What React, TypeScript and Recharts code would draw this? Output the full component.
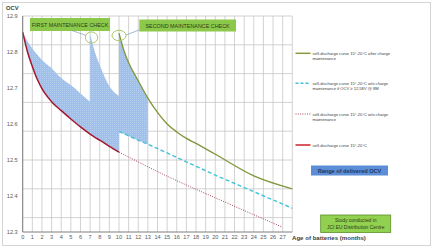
import React from 'react';
import { ComposedChart, Line, Area, XAxis, YAxis, CartesianGrid } from 'recharts';

// Self-discharge curve 15°-20°C (solid red)
const redX = [0, 0.5, 1, 1.5, 2, 3, 4, 5, 6, 7, 7.5, 8, 9, 10];
const redY = [12.855, 12.8, 12.76, 12.725, 12.698, 12.662, 12.637, 12.614, 12.592, 12.572, 12.563, 12.555, 12.538, 12.522];

// w/o charge maintenance (dotted)
const dotX = [10, 15, 20, 27];
const dotY = [12.522, 12.455, 12.395, 12.313];

// w/o charge maintenance if OCV >= 12,58V @ 8M (dashed cyan)
const cyanX = [10, 11, 12, 13, 20, 28];
const cyanY = [12.579, 12.567, 12.555, 12.544, 12.458, 12.366];

// after charge maintenance (green)
const greenX = [10, 10.5, 11, 12, 13, 14, 15, 16, 17, 18, 20, 24, 28];
const greenY = [12.852, 12.805, 12.77, 12.72, 12.672, 12.632, 12.6, 12.578, 12.56, 12.546, 12.516, 12.456, 12.42];

// Range of delivered OCV (three bands)
const band1X = [0, 0.5, 1, 1.5, 2, 3, 4, 5, 6, 7];
const band1Low = [12.855, 12.8, 12.76, 12.725, 12.698, 12.662, 12.637, 12.614, 12.592, 12.572];
const band1High = [12.855, 12.83, 12.81, 12.793, 12.778, 12.755, 12.728, 12.708, 12.685, 12.662];

const band2X = [7, 7.5, 8, 9, 10];
const band2Low = [12.572, 12.563, 12.555, 12.538, 12.522];
const band2High = [12.85, 12.8, 12.764, 12.705, 12.678];

const band3X = [10, 10.5, 11, 12, 13];
const band3Low = [12.579, 12.573, 12.567, 12.555, 12.544];
const band3High = [12.852, 12.805, 12.77, 12.72, 12.672];

const xTicks = [0, 1, 2, 3, 4, 5, 6, 7, 8, 9, 10, 11, 12, 13, 14, 15, 16, 17, 18, 19, 20, 21, 22, 23, 24, 25, 26, 27];
const yTicks = [12.3, 12.4, 12.5, 12.6, 12.7, 12.8, 12.9];

type Row = { [k: string]: any };
const rowsMap = new Map<number, Row>();
const put = (x: number, key: string, v: any) => {
  if (!rowsMap.has(x)) rowsMap.set(x, { x });
  rowsMap.get(x)![key] = v;
};
redX.forEach((x, i) => put(x, 'red', redY[i]));
dotX.forEach((x, i) => put(x, 'dot', dotY[i]));
cyanX.forEach((x, i) => put(x, 'cyan', cyanY[i]));
greenX.forEach((x, i) => put(x, 'green', greenY[i]));
band1X.forEach((x, i) => put(x, 'band1', [band1Low[i], band1High[i]]));
band2X.forEach((x, i) => put(x, 'band2', [band2Low[i], band2High[i]]));
band3X.forEach((x, i) => put(x, 'band3', [band3Low[i], band3High[i]]));
const data = Array.from(rowsMap.values()).sort((a, b) => a.x - b.x);

const gridH: number[] = [];
for (let i = 0; i <= 30; i++) gridH.push(12.3 + i * 0.02);
const gridV: number[] = [];
for (let i = 0; i <= 28; i++) gridV.push(i);

const FONT = '"Liberation Sans", Arial, sans-serif';
const BAND = '#9fc0ea';

const legendItems = [
  { y: 53.3, lines: ['self-discharge curve 15°-20°C after charge', 'maintenance'], stroke: '#8a9a3c', dash: undefined as string | undefined, w: 1.5 },
  { y: 83.3, lines: ['self-discharge curve 15°-20°C w/o charge', 'maintenance if OCV ≥ 12,58V @ 8M'], stroke: '#3ec3d8', dash: '3 2', w: 1.5 },
  { y: 114, lines: ['self-discharge curve 15°-20°C w/o charge', 'maintenance'], stroke: '#b04050', dash: '1 1.3', w: 1.1 },
  { y: 145, lines: ['self-discharge curve 15°-20°C'], stroke: '#d0202a', dash: undefined, w: 1.5 },
];

export default function App() {
  return (
    <div style={{ position: 'absolute', left: 0, top: 0, width: 433, height: 250, background: '#fff' }}>
      <div style={{ position: 'absolute', left: 0, top: 0 }}>
        <ComposedChart
          width={433}
          height={250}
          data={data}
          margin={{ top: 16, right: 140.7, bottom: 0, left: 2.7 }}
        >
          <defs>
            <pattern id="stipple" width="2" height="2" patternUnits="userSpaceOnUse">
              <rect width="2" height="2" fill={BAND} />
              <rect width="1" height="1" fill="#b3cdee" />
            </pattern>
          </defs>
          <CartesianGrid
            stroke="#c6c6c6"
            strokeWidth={0.8}
            horizontalValues={gridH}
            verticalValues={gridV}
          />
          <XAxis
            dataKey="x"
            type="number"
            domain={[0, 28]}
            ticks={xTicks}
            interval={0}
            height={18}
            tickLine={false}
            tickSize={3}
            tickMargin={0}
            axisLine={{ stroke: '#7f7f7f', strokeWidth: 1 }}
            tick={{ fontSize: 5.6, fill: '#595959', fontFamily: FONT }}
          />
          <YAxis
            type="number"
            domain={[12.3, 12.9]}
            ticks={yTicks}
            width={20}
            tickLine={false}
            tickSize={5}
            tickMargin={0}
            axisLine={{ stroke: '#7f7f7f', strokeWidth: 1 }}
            tickFormatter={(v: number) => v.toFixed(1)}
            tick={{ fontSize: 5.6, fill: '#595959', fontFamily: FONT }}
          />
          <Area dataKey="band1" type="monotone" stroke="none" fill="url(#stipple)" fillOpacity={1} connectNulls isAnimationActive={false} />
          <Area dataKey="band2" type="monotone" stroke="none" fill="url(#stipple)" fillOpacity={1} connectNulls isAnimationActive={false} />
          <Area dataKey="band3" type="monotone" stroke="none" fill="url(#stipple)" fillOpacity={1} connectNulls isAnimationActive={false} />
          <Line dataKey="dot" type="monotone" stroke="#a64556" strokeWidth={1} strokeDasharray="1 1.4" dot={false} connectNulls isAnimationActive={false} />
          <Line dataKey="cyan" type="linear" stroke="#3ec3d8" strokeWidth={1.4} strokeDasharray="4 2.5" dot={false} connectNulls isAnimationActive={false} />
          <Line dataKey="green" type="monotone" stroke="#7f963a" strokeWidth={1.3} dot={false} connectNulls isAnimationActive={false} />
          <Line dataKey="red" type="monotone" stroke="#a3182f" strokeWidth={1.5} dot={false} connectNulls isAnimationActive={false} />
        </ComposedChart>
      </div>
      <svg
        width={433}
        height={250}
        style={{ position: 'absolute', left: 0, top: 0, pointerEvents: 'none' }}
        fontFamily={FONT}
      >
        <rect x={2.5} y={2.5} width={428} height={243} fill="none" stroke="#d4d4d4" strokeWidth={1} />
        <text x={6} y={10} fontSize={5.8} fontWeight="bold" fill="#404040">OCV</text>
        <text x={292} y={240.3} fontSize={6.1} fontWeight="bold" fill="#404040">Age of batteries (months)</text>

        {/* maintenance check labels */}
        <rect x={30} y={18} width={80} height={13} fill="#8cc84a" />
        <text x={70} y={27} fontSize={5.4} textAnchor="middle" fill="#2f3d1a">FIRST MAINTENANCE CHECK</text>
        <rect x={139.3} y={19.5} width={96.7} height={12} fill="#8cc84a" />
        <text x={187.6} y={28} fontSize={5.4} textAnchor="middle" fill="#2f3d1a">SECOND  MAINTENANCE CHECK</text>
        <line x1={72} y1={30.5} x2={86} y2={35.5} stroke="#7f9bb8" strokeWidth={0.7} />
        <line x1={139} y1={30} x2={126} y2={35} stroke="#7f9bb8" strokeWidth={0.7} />
        <ellipse cx={91.5} cy={37.5} rx={6.2} ry={5.6} fill="none" stroke="#a9c86a" strokeWidth={1} />
        <ellipse cx={119} cy={35.5} rx={7} ry={5.2} fill="none" stroke="#a9c86a" strokeWidth={1} />

        {/* legend */}
        {legendItems.map((it, i) => (
          <g key={i}>
            <line x1={295.5} y1={it.y} x2={310.5} y2={it.y} stroke={it.stroke} strokeWidth={it.w} strokeDasharray={it.dash} />
            {it.lines.map((t, j) => (
              <text key={j} x={312.5} y={it.y + 1.5 + j * 5} fontSize={4.1} fill="#404040">{t}</text>
            ))}
          </g>
        ))}

        {/* range of delivered OCV box */}
        <rect x={311} y={165.5} width={77} height={10} fill="#5b8ed6" />
        <text x={349.5} y={172.6} fontSize={5.6} fontWeight="bold" textAnchor="middle" fill="#1f3864">Range of delivered OCV</text>

        {/* study box */}
        <rect x={320.7} y={215} width={70} height={17.5} fill="#92d050" stroke="#5e8f2a" strokeWidth={0.8} />
        <text x={355.7} y={222.2} fontSize={4.9} textAnchor="middle" fill="#2a3a18">Study conducted in</text>
        <text x={355.7} y={229.2} fontSize={4.9} textAnchor="middle" fill="#2a3a18">JCI EU Distribution Centre</text>
      </svg>
    </div>
  );
}
